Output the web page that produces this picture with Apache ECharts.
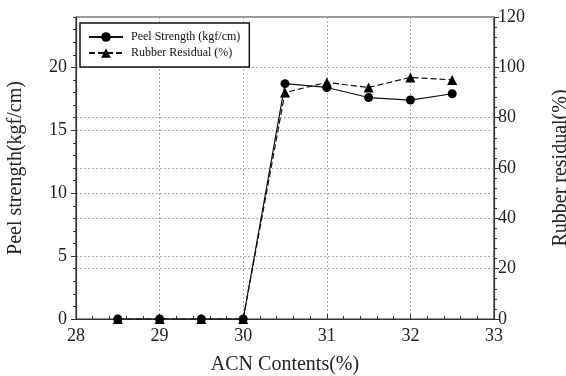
<!DOCTYPE html>
<html>
<head>
<meta charset="utf-8">
<script src="https://cdn.jsdelivr.net/npm/echarts@6/dist/echarts.min.js"></script>
<style>
  html, body { margin: 0; padding: 0; background: #fff; }
  #chart { width: 566px; height: 376px; }
</style>
</head>
<body>
<div id="chart"></div>
<script>
// ACN content (%) of each sample
const acnContents = [28.5, 29, 29.5, 30, 30.5, 31, 31.5, 32, 32.5];
// Peel strength, kgf/cm
const peelStrength = [0, 0, 0, 0, 18.7, 18.4, 17.6, 17.4, 17.9];
// Rubber residual, %
const rubberResidual = [0, 0, 0, 0, 90, 94, 92, 96, 95];

const seriesNames = ['Peel Strength (kgf/cm)', 'Rubber Residual (%)'];
const xName = 'ACN Contents(%)';
const yLeftName = 'Peel strength(kgf/cm)';
const yRightName = 'Rubber residual(%)';

const FONT = 'Liberation Serif';
const TEXT = '#222';

const pairs = (ys) => acnContents.map((x, i) => [x, ys[i]]);

const dotted = { show: true, lineStyle: { color: '#aaa', type: [2, 2], width: 1 } };

const chart = echarts.init(document.getElementById('chart'), null, { renderer: 'canvas' });

chart.setOption({
  backgroundColor: '#fff',
  animation: false,
  grid: {
    left: 76, right: 72, top: 17, bottom: 57,
    containLabel: false,
    outerBoundsMode: 'none',
    show: true, borderColor: '#333', borderWidth: 1.2, backgroundColor: 'transparent'
  },
  legend: {
    orient: 'vertical',
    left: 80, top: 23,
    padding: [8, 9, 8, 8],
    itemGap: 4,
    itemWidth: 34,
    itemHeight: 12,
    backgroundColor: '#fff',
    borderColor: '#111',
    borderWidth: 1.5,
    borderRadius: 0,
    textStyle: { fontFamily: FONT, fontSize: 12, color: '#111', padding: [0, 0, 0, 3] },
    data: seriesNames
  },
  xAxis: {
    type: 'value',
    min: 28, max: 33, interval: 1,
    name: xName,
    nameLocation: 'middle',
    nameGap: 36,
    nameTextStyle: { fontFamily: FONT, fontSize: 20, color: TEXT },
    axisLine: { show: true, onZero: false, lineStyle: { color: '#333', width: 1.2 } },
    axisTick: { show: true, inside: true, length: 5, lineStyle: { color: '#333' } },
    minorTick: { show: true, splitNumber: 5, length: 3, lineStyle: { color: '#333' } },
    axisLabel: { fontFamily: FONT, fontSize: 18, color: TEXT, margin: 8 },
    splitLine: dotted
  },
  yAxis: [
    {
      type: 'value',
      position: 'left',
      min: 0, max: 24, interval: 5,
      name: yLeftName,
      nameLocation: 'middle',
      nameGap: 50,
      nameRotate: 90,
      nameTextStyle: { fontFamily: FONT, fontSize: 20, color: TEXT },
      axisLine: { show: true, lineStyle: { color: '#333', width: 1.2 } },
      axisTick: { show: true, inside: false, length: 5, lineStyle: { color: '#333' } },
      axisLabel: { fontFamily: FONT, fontSize: 18, color: TEXT, margin: 9, showMaxLabel: false },
      splitLine: dotted
    },
    {
      type: 'value',
      position: 'right',
      min: 0, max: 120, interval: 20,
      name: yRightName,
      nameLocation: 'middle',
      nameGap: 57,
      nameRotate: 90,
      nameTextStyle: { fontFamily: FONT, fontSize: 20, color: TEXT },
      axisLine: { show: true, lineStyle: { color: '#333', width: 1.2 } },
      axisTick: { show: true, inside: false, length: 5, lineStyle: { color: '#333' } },
      axisLabel: { fontFamily: FONT, fontSize: 18, color: TEXT, margin: 4 },
      splitLine: dotted
    },
    {
      // minor ticks on the left axis, one per unit
      type: 'value',
      position: 'left',
      min: 0, max: 24, interval: 1,
      axisLine: { show: false },
      axisTick: { show: true, inside: false, length: 3, lineStyle: { color: '#333' } },
      axisLabel: { show: false },
      splitLine: { show: false }
    },
    {
      // minor ticks on the right axis, every 4 %
      type: 'value',
      position: 'right',
      min: 0, max: 120, interval: 4,
      axisLine: { show: false },
      axisTick: { show: true, inside: false, length: 3, lineStyle: { color: '#333' } },
      axisLabel: { show: false },
      splitLine: { show: false }
    }
  ],
  series: [
    {
      name: seriesNames[1],
      type: 'line',
      yAxisIndex: 1,
      data: pairs(rubberResidual),
      symbol: 'triangle',
      symbolSize: 10,
      itemStyle: { color: '#000' },
      lineStyle: { color: '#111', width: 1.2, type: [6, 3] },
      z: 2
    },
    {
      name: seriesNames[0],
      type: 'line',
      yAxisIndex: 0,
      data: pairs(peelStrength),
      symbol: 'circle',
      symbolSize: 9,
      itemStyle: { color: '#000' },
      lineStyle: { color: '#111', width: 1.2, type: 'solid' },
      z: 3
    }
  ]
});
</script>
</body>
</html>
